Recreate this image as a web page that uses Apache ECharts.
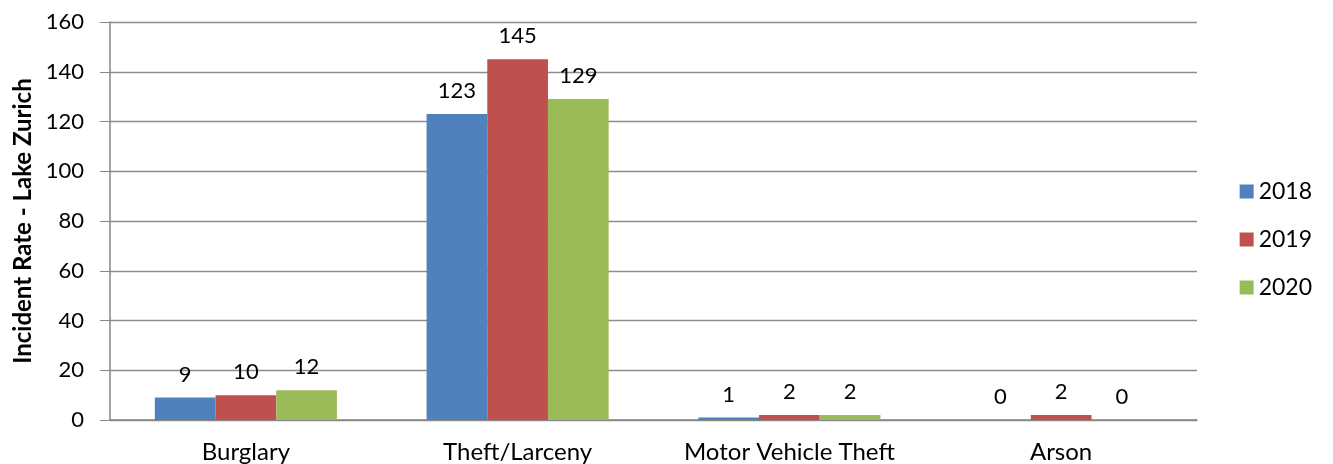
<!DOCTYPE html>
<html>
<head>
<meta charset="utf-8">
<script src="https://cdn.jsdelivr.net/npm/echarts@6/dist/echarts.min.js"></script>
<style>
  html, body { margin: 0; padding: 0; background: #fff; }
  #chart { width: 1333px; height: 464px; }
</style>
</head>
<body>
<div id="chart"></div>
<script>
// 数据
var categories = ['Burglary', 'Theft/Larceny', 'Motor Vehicle Theft', 'Arson'];
var years = ['2018', '2019', '2020'];
var values2018 = [9, 123, 1, 0];
var values2019 = [10, 145, 2, 2];
var values2020 = [12, 129, 2, 0];
var colors = ['#4f81bd', '#c0504d', '#9bbb59'];

var font = 'Lato, "Open Sans", sans-serif';

function makeSeries(name, data, color) {
	return {
		name: name,
		type: 'bar',
		data: data,
		barGap: '0%',
		barCategoryGap: '33%',
		itemStyle: { color: color },
		label: {
			show: true,
			position: 'top',
			distance: 12,
			color: '#000',
			fontSize: 22,
			fontFamily: font
		}
	};
}

var myChart = echarts.init(document.getElementById('chart'));
var option = {
	animation: false,
	grid: { left: 110, top: 22, right: 136, bottom: 44 },
	legend: {
		orient: 'vertical',
		right: 16,
		top: 175,
		itemWidth: 14,
		itemHeight: 14,
		itemGap: 25,
		icon: 'rect',
		textStyle: { fontSize: 23, fontFamily: font, color: '#000' },
		data: years
	},
	xAxis: {
		type: 'category',
		data: categories,
		axisLine: { lineStyle: { color: '#868686', width: 1.5 } },
		axisTick: { show: false },
		axisLabel: { interval: 0, fontSize: 24, fontFamily: font, color: '#000', margin: 20 }
	},
	yAxis: {
		type: 'value',
		min: 0,
		max: 160,
		interval: 20,
		name: 'Incident Rate - Lake Zurich',
		nameLocation: 'middle',
		nameGap: 66,
		nameTextStyle: { fontSize: 24, fontWeight: 'bold', fontFamily: font, color: '#000' },
		axisLine: { show: true, lineStyle: { color: '#868686', width: 1.5 } },
		axisTick: { show: true, length: 10, lineStyle: { color: '#868686' } },
		axisLabel: { fontSize: 22, fontFamily: font, color: '#000', margin: 26 },
		splitLine: { lineStyle: { color: '#8c8c8c', width: 1.3 } }
	},
	series: [
		makeSeries(years[0], values2018, colors[0]),
		makeSeries(years[1], values2019, colors[1]),
		makeSeries(years[2], values2020, colors[2])
	]
};
myChart.setOption(option);
</script>
</body>
</html>
